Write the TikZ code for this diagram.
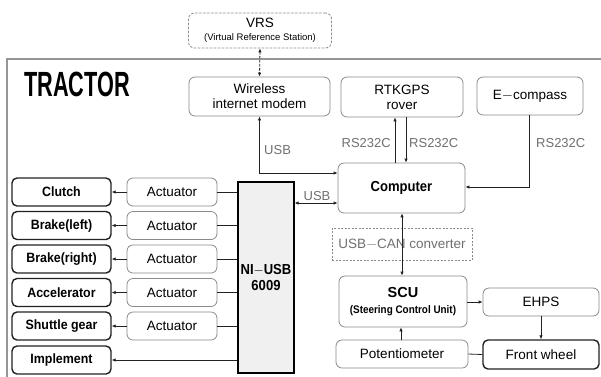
\documentclass[tikz,border=0pt]{standalone}
\usepackage{fontspec}
\setmainfont{Liberation Sans}
\usetikzlibrary{arrows.meta}
\definecolor{lgray}{HTML}{8A8A8A}
\definecolor{tgray}{HTML}{707070}
\definecolor{dgray}{HTML}{222222}
\definecolor{nifill}{HTML}{F0F0F0}
\tikzset{
  lbox/.style={draw=lgray, line width=0.8pt, rounded corners=6pt, inner sep=0pt, align=center, font=\fontsize{13.5}{15}\selectfont, text=black},
  dbox/.style={draw=dgray, line width=1.4pt, rounded corners=5pt, inner sep=0pt, align=center, font=\fontsize{13.5}{15}\selectfont\bfseries, text=black},
  lbl/.style={text=tgray, font=\fontsize{13}{14}\selectfont, inner sep=1pt},
  conn/.style={draw=dgray, line width=0.8pt},
  arr/.style={conn, -{Latex[length=4pt,width=3.5pt]}},
  darr/.style={conn, {Latex[length=4pt,width=3.5pt]}-{Latex[length=4pt,width=3.5pt]}},
}
\begin{document}
\begin{tikzpicture}[x=1pt,y=-1pt]
\useasboundingbox (0,0) rectangle (601,376);
\fill[white] (0,0) rectangle (601,376);
% tractor frame
\draw[draw=lgray!90, line width=2pt] (602,59) -- (7,59) -- (7,377);
\node[anchor=west, inner sep=0pt] (tractor) at (24,84) {\scalebox{0.62}[1]{\fontsize{35}{35}\selectfont\bfseries TRACTOR}};

% top nodes
\node[lbox, dash pattern=on 2.5pt off 1.5pt, draw=lgray, minimum width=143pt, minimum height=35pt] (vrs) at (260,30.5) {VRS\\[-2pt]{\fontsize{9.5}{10}\selectfont (Virtual Reference Station)}};
\node[lbox, minimum width=141pt, minimum height=39pt] (modem) at (259.5,96.5) {Wireless\\internet modem};
\node[lbox, minimum width=122pt, minimum height=40pt] (rtk) at (402,97) {RTKGPS\\rover};
\node[lbox, minimum width=106pt, minimum height=38pt] (ecomp) at (530,96) {E$-$compass};

\node[lbox, minimum width=127pt, minimum height=50pt, font=\fontsize{14.5}{16}\selectfont\bfseries] (comp) at (401.5,188) {\scalebox{0.9}[1]{Computer}};
\node[draw=lgray, dash pattern=on 2pt off 1.5pt, line width=0.7pt, minimum width=140pt, minimum height=32pt, inner sep=0pt, text=tgray, font=\fontsize{13.5}{15}\selectfont] (usbcan) at (402,244) {USB$-$CAN converter};
\node[lbox, minimum width=128pt, minimum height=51pt] (scu) at (403,301.5) {{\fontsize{14.5}{16}\selectfont\bfseries SCU}\\[1pt]{\fontsize{11}{12}\selectfont\bfseries\scalebox{0.9}[1]{(Steering Control Unit)}}};
\node[lbox, minimum width=116pt, minimum height=28pt] (ehps) at (541,302) {EHPS};
\node[dbox, minimum width=116pt, minimum height=29pt, font=\fontsize{13.5}{15}\selectfont] (front) at (541,354.5) {Front wheel};
\node[lbox, minimum width=132pt, minimum height=28pt] (pot) at (402,354) {Potentiometer};

% NI-USB
\node[draw=black, fill=nifill, line width=1.2pt, minimum width=56pt, minimum height=191pt, inner sep=0pt, align=center, font=\fontsize{14.5}{16}\selectfont\bfseries] (ni) at (266,277.5) {\scalebox{0.9}[1]{NI$-$USB}\\\scalebox{0.9}[1]{6009}};

% left column
\foreach \name/\txt/\y in {clutch/Clutch/192, brl/Brake(left)/225.5, brr/Brake(right)/259, acc/Accelerator/292.5, shut/Shuttle gear/326, impl/Implement/360}{
  \node[dbox, minimum width=99pt, minimum height=28pt] (\name) at (61.5,\y) {\scalebox{0.92}[1]{\txt}};
}
\foreach \name/\y in {a1/192, a2/225.5, a3/259, a4/292.5, a5/326}{
  \node[lbox, minimum width=90pt, minimum height=28pt] (\name) at (172,\y) {Actuator};
}
\foreach \a/\d in {a1/clutch, a2/brl, a3/brr, a4/acc, a5/shut}{
  \draw[conn] (\a.east) -- (\a.east -| ni.west);
  \draw[arr] (\a.west) -- (\d.east);
}
\draw[arr] (impl.east -| ni.west) -- (impl.east);

% connections
\draw[conn, dash pattern=on 2.5pt off 1.5pt, {Latex[length=4pt,width=3.5pt]}-{Latex[length=4pt,width=3.5pt]}] (vrs.south) -- (modem.north);
\coordinate (mc) at (259.5,173);
\draw[conn, {Latex[length=4pt,width=3.5pt]}-{Latex[length=4pt,width=3.5pt]}] (modem.south) -- (mc) -- (mc -| comp.west);
\node[lbl, anchor=west] (usb1) at (263,150) {USB};

\draw[arr] (comp.north -| 395,0) -- (rtk.south -| 395,0);
\draw[arr] (rtk.south -| 406,0) -- (comp.north -| 406,0);
\node[lbl, anchor=east] (rs1) at (392,143) {RS232C};
\node[lbl, anchor=west] (rs2) at (408,143) {RS232C};

\coordinate (ec) at (529,187);
\draw[arr] (ecomp.south -| ec) -- (ec) -- (ec -| comp.east);
\node[lbl, anchor=west] (rs3) at (535,143) {RS232C};

\draw[darr] (ni.east |- 0,203) -- (comp.west |- 0,203);
\node[lbl, anchor=south] (usb2) at (317,202) {USB};

\draw[darr] (comp.south -| 402,0) -- (scu.north -| 402,0);
\draw[arr] (scu.east |- 0,302) -- (ehps.west |- 0,302);
\draw[arr] (ehps.south) -- (front.north);
\draw[conn] (front.west) -- (pot.east);
\draw[arr] (pot.north -| 401,0) -- (scu.south -| 401,0);
\end{tikzpicture}
\end{document}
